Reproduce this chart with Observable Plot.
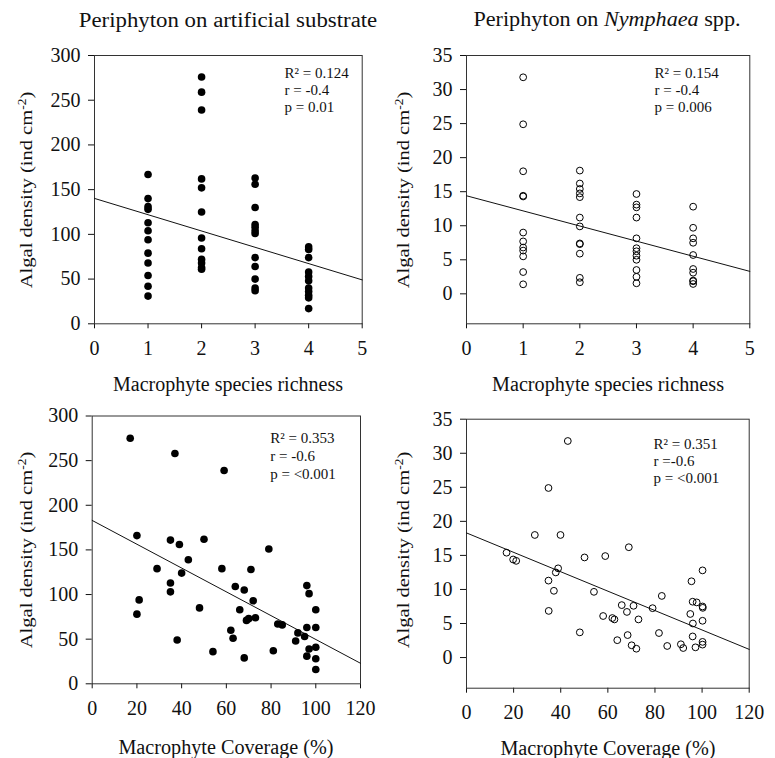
<!DOCTYPE html>
<html><head><meta charset="utf-8">
<script src="https://cdn.jsdelivr.net/npm/d3@7"></script>
<script src="https://cdn.jsdelivr.net/npm/@observablehq/plot@0.6"></script>
<style>
body{margin:0;background:#fff}
#chart{position:relative;width:775px;height:758px;font-family:'Liberation Serif','Times New Roman',serif;color:#111;overflow:hidden}
.lbl{position:absolute;white-space:nowrap;font-size:20px;transform:translate(-50%,-50%);line-height:1}
.ylbl{font-size:17.5px}
.ylbl sup{font-size:11.5px;vertical-align:6px;line-height:0}
.panel{position:absolute}
</style></head><body><div id="chart"></div>
<script>
// ---------- data ----------
const richnessLevels = [1, 2, 3, 4];
const richnessTicks = [0, 1, 2, 3, 4, 5];
const coverageTicks = [0, 20, 40, 60, 80, 100, 120];
const artDensityTicks = [0, 50, 100, 150, 200, 250, 300];
const nymDensityTicks = [0, 5, 10, 15, 20, 25, 30, 35];

// Periphyton on artificial substrate, density by macrophyte species richness
const artDensityByRichness = [
  [167, 140, 131, 128, 113, 104, 94, 79, 68, 54, 42, 31],
  [276, 259, 239, 162, 152, 125, 96, 84, 72, 68, 63, 61],
  [163, 156, 130, 111, 108, 104, 101, 74, 64, 50, 40, 37],
  [86, 83, 74, 58, 53, 48, 40, 36, 32, 29, 17]
];
// Periphyton on artificial substrate vs macrophyte coverage
const artCoverage = [17, 37, 59, 20, 35, 39, 50, 43, 29, 40, 58, 71, 79, 35, 35, 21, 20, 48, 38, 64, 68, 72, 66, 69, 70, 73, 62, 63, 54, 68, 81, 83, 85, 92, 91, 95, 96, 97, 100, 100, 96, 97, 100, 96, 100, 100];
const artDensity  = [275, 258, 239, 166, 161, 156, 162, 139, 129, 124, 129, 128, 151, 113, 103, 94, 78, 85, 49, 109, 105, 93, 83, 71, 73, 74, 60, 51, 36, 29, 37, 67, 66, 57, 48, 53, 110, 101, 83, 63, 63, 39, 41, 31, 28, 16];

// Periphyton on Nymphaea spp., density by richness
const nymDensityByRichness = [
  [31.8, 24.9, 18.0, 14.4, 14.3, 9.0, 7.7, 6.8, 6.35, 5.5, 3.2, 1.4],
  [18.1, 16.2, 15.4, 14.75, 14.2, 11.2, 9.9, 7.4, 7.3, 5.9, 2.35, 1.7],
  [14.66, 13.1, 12.7, 11.2, 8.15, 6.7, 6.25, 5.6, 5.0, 3.5, 2.5, 1.55],
  [12.8, 9.7, 8.15, 7.5, 5.7, 3.65, 3.1, 1.95, 1.85, 1.45]
];
// Periphyton on Nymphaea spp. vs macrophyte coverage
const nymCoverage = [43, 34.8, 29, 39.9, 68.9, 50.1, 58.9, 17, 19.8, 21.1, 38.9, 37.9, 34.8, 37.1, 54.1, 34.9, 48.1, 58, 61.9, 62.8, 65.9, 68.1, 70.9, 73, 68.4, 64, 70.1, 72.1, 79, 82.9, 81.7, 85.2, 91, 92, 95.5, 96, 97.7, 100.2, 100.2, 100.3, 95, 96.1, 100.2, 96, 100.2, 100.2, 97.2];
const nymDensity  = [31.8, 24.9, 18, 18, 16.2, 14.7, 14.9, 15.4, 14.4, 14.2, 13.1, 12.5, 11.3, 9.8, 9.65, 6.85, 3.7, 6.1, 5.8, 5.6, 7.7, 6.7, 7.6, 5.6, 3.3, 2.55, 1.8, 1.3, 7.25, 9.05, 3.6, 1.7, 1.95, 1.4, 11.2, 8.2, 8.1, 12.8, 7.5, 7.3, 6.4, 5, 5.4, 3.1, 2.3, 1.9, 1.5];

// fitted regression lines (endpoints)
const fitRichnessX = [0, 5];
const fitArtRichnessY = [140.2, 49.1];
const fitNymRichnessY = [14.4, 3.3];
const fitCoverageX = [0, 120];
const fitArtCoverageY = [183, 23];
const fitNymCoverageY = [18.3, 1.2];

// statistics
const statsArtRichness = ["R² = 0.124", "r = -0.4", "p = 0.01"];
const statsNymRichness = ["R² = 0.154", "r = -0.4", "p = 0.006"];
const statsArtCoverage = ["R² = 0.353", "r = -0.6", "p = <0.001"];
const statsNymCoverage = ["R² = 0.351", "r =-0.6", "p = <0.001"];

// ---------- build ----------
const flatRich = (groups) => groups.flatMap((vals, i) => vals.map(v => ({x: richnessLevels[i], y: v})));
const zipXY = (xs, ys) => xs.map((x, i) => ({x, y: ys[i]}));

const chart = document.getElementById("chart");
const FONT = "'Liberation Serif','Times New Roman',serif";

function panel(o) {
  const p = Plot.plot({
    width: o.width, height: o.height,
    marginLeft: o.ml, marginRight: o.mr, marginTop: o.mt, marginBottom: o.mb,
    style: {fontFamily: FONT, fontSize: "20px", color: "#111", background: "transparent", overflow: "visible"},
    x: {domain: o.xDomain, ticks: o.xTicks, tickSize: 5, tickPadding: 12, label: null, tickFormat: d3.format("d")},
    y: {domain: o.yDomain, ticks: o.yTicks, tickSize: 6, tickPadding: 8, label: null, tickFormat: d3.format("d")},
    marks: [
      Plot.frame({stroke: "#333", strokeWidth: 1}),
      Plot.line(o.fit, {x: "x", y: "y", stroke: "#111", strokeWidth: 1}),
      o.filled
        ? Plot.dot(o.points, {x: "x", y: "y", r: 3.8, fill: "#000", stroke: "none"})
        : Plot.dot(o.points, {x: "x", y: "y", r: 3.4, fill: "none", stroke: "#000", strokeWidth: 1}),
      Plot.text([o.stats.join("\n")], {text: d => d, frameAnchor: "top-left", textAnchor: "start", lineAnchor: "top",
        dx: o.sdx, dy: o.sdy, fontSize: 15, lineHeight: o.slh, fill: "#111"})
    ]
  });
  p.classList.add("panel");
  p.style.left = o.left + "px";
  p.style.top = o.top + "px";
  chart.appendChild(p);
}

panel({left: 0, top: 0, width: 390, height: 400, ml: 94, mr: 28.3, mt: 55, mb: 76.7,
  xDomain: [0, 5], xTicks: richnessTicks, yDomain: [0, 300], yTicks: artDensityTicks,
  points: flatRich(artDensityByRichness), fit: zipXY(fitRichnessX, fitArtRichnessY), filled: true,
  stats: statsArtRichness, sdx: 190, sdy: 9.8, slh: 1.15});

panel({left: 390, top: 0, width: 385, height: 400, ml: 76, mr: 25.7, mt: 55, mb: 76.7,
  xDomain: [0, 5], xTicks: richnessTicks, yDomain: [-4.4, 35], yTicks: nymDensityTicks,
  points: flatRich(nymDensityByRichness), fit: zipXY(fitRichnessX, fitNymRichnessY), filled: false,
  stats: statsNymRichness, sdx: 188, sdy: 9.8, slh: 1.15});

panel({left: 0, top: 400, width: 390, height: 358, ml: 91.7, mr: 30, mt: 15.5, mb: 74.7,
  xDomain: [0, 120], xTicks: coverageTicks, yDomain: [0, 300], yTicks: artDensityTicks,
  points: zipXY(artCoverage, artDensity), fit: zipXY(fitCoverageX, fitArtCoverageY), filled: true,
  stats: statsArtCoverage, sdx: 178, sdy: 14.3, slh: 1.2});

panel({left: 390, top: 400, width: 385, height: 358, ml: 76, mr: 26.3, mt: 18.7, mb: 70.3,
  xDomain: [0, 120], xTicks: coverageTicks, yDomain: [-4.5, 35], yTicks: nymDensityTicks,
  points: zipXY(nymCoverage, nymDensity), fit: zipXY(fitCoverageX, fitNymCoverageY), filled: false,
  stats: statsNymCoverage, sdx: 187, sdy: 18.4, slh: 1.11});

// ---------- text labels ----------
function label(html, x, y, targetWidth, vertical) {
  const d = document.createElement("div");
  d.className = "lbl" + (vertical ? " ylbl" : "");
  d.innerHTML = html;
  d.style.left = x + "px";
  d.style.top = y + "px";
  chart.appendChild(d);
  const s = targetWidth / d.offsetWidth;
  d.style.transform = "translate(-50%,-50%)" + (vertical ? " rotate(-90deg)" : "") + ` scaleX(${s.toFixed(3)})`;
}
label("Periphyton on artificial substrate", 227.5, 20, 299);
label("Periphyton on <i>Nymphaea</i> spp.", 606.7, 19, 267);
label("Macrophyte species richness", 228, 384, 230);
label("Macrophyte species richness", 607.5, 384, 232);
label("Macrophyte Coverage (%)", 225.5, 747, 215);
label("Macrophyte Coverage (%)", 607.5, 748, 215);
const yTitle = "Algal density (ind cm<sup>-2</sup>)";
label(yTitle, 27, 190, 197, true);
label(yTitle, 404, 190, 197, true);
label(yTitle, 27, 550, 197, true);
label(yTitle, 404, 550, 197, true);
</script>
</body></html>
